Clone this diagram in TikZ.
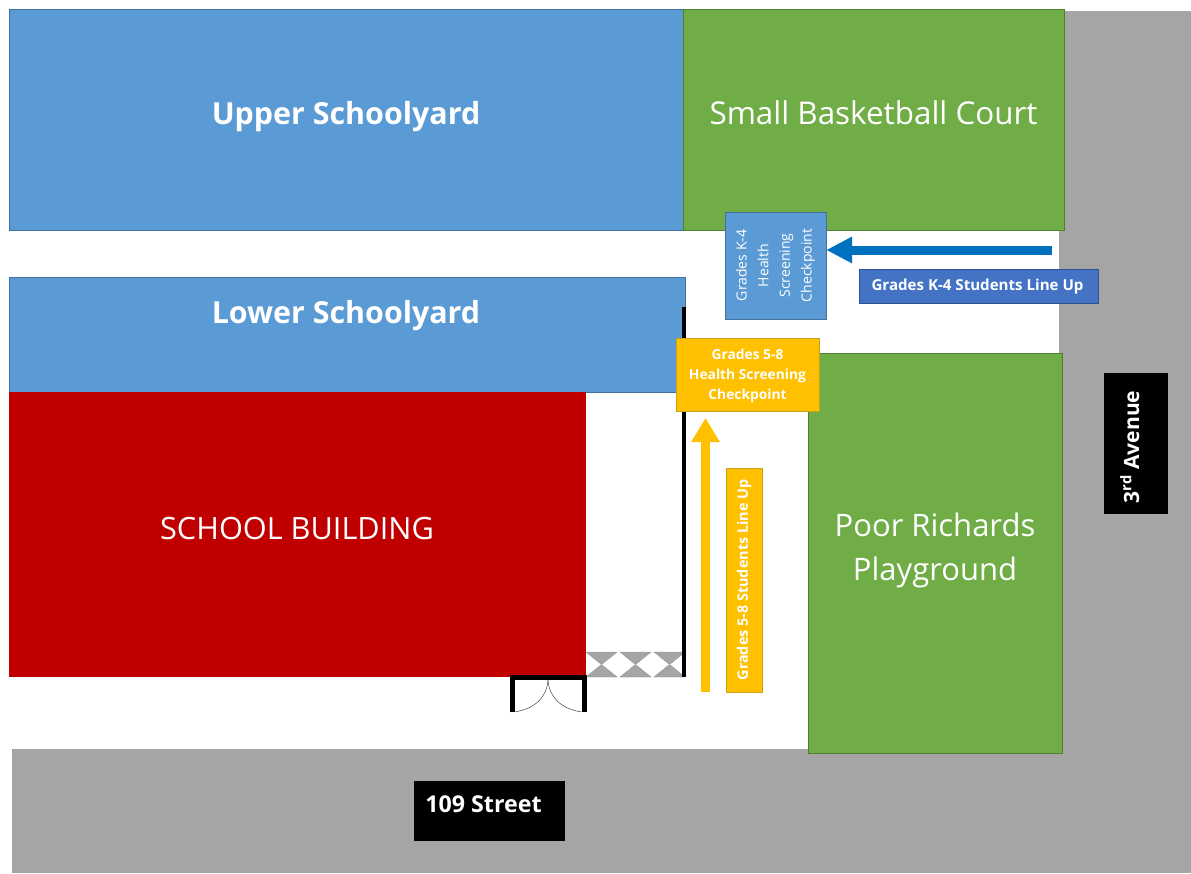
\documentclass[tikz,border=0pt]{standalone}
\usepackage{fontspec}
\setmainfont{Open Sans}
\usetikzlibrary{arrows.meta,positioning,calc}

\definecolor{yardblue}{HTML}{5B9BD5}
\definecolor{yardline}{HTML}{41719C}
\definecolor{grassgreen}{HTML}{70AD47}
\definecolor{grassline}{HTML}{507E32}
\definecolor{buildred}{HTML}{C00000}
\definecolor{roadgray}{HTML}{A5A5A5}
\definecolor{lineyellow}{HTML}{FFC000}
\definecolor{yellowedge}{HTML}{C9A21A}
\definecolor{lineblue}{HTML}{4472C4}
\definecolor{lineblueedge}{HTML}{2F528F}
\definecolor{arrowblue}{HTML}{0070C0}

\tikzset{
	yard/.style={draw=yardline, fill=yardblue},
	grass/.style={draw=grassline, fill=grassgreen},
	bigtext/.style={text=white, font=\fontsize{31}{44}\selectfont, align=center},
	yardtext/.style={text=white, font=\fontsize{30.4}{36}\selectfont\bfseries},
	smalltext/.style={text=white, font=\fontsize{14}{20}\selectfont\bfseries, align=center},
	streetsign/.style={fill=black, text=white, inner sep=0pt}
}

\begin{document}
\begin{tikzpicture}[x=1pt,y=-1pt]
	\useasboundingbox (0,0) rectangle (1191,873);

	% Streets
	\fill[roadgray] (1059,11) rectangle (1191,873);
	\fill[roadgray] (12,749) rectangle (1191,873);

	% Schoolyards
	\draw[yard] (9.5,9.5) rectangle (683.5,230.5);
	\node[yardtext] (upperyard) at (346,117) {Upper Schoolyard};
	\draw[yard] (9.5,277.5) rectangle (685.5,392);
	\node[yardtext] (loweryard) at (346,316) {Lower Schoolyard};

	% Courts
	\draw[grass] (683.5,9.5) rectangle (1064.5,230.5);
	\node[bigtext, font=\fontsize{31.4}{44}\selectfont] (smallcourt) at (873.5,113) {Small Basketball Court};
	\draw[grass] (808,353) rectangle (1062.5,753);
	\node[bigtext] (poorrichards) at (935,550) {Poor Richards\\Playground};

	% Building
	\fill[buildred] (9,392) rectangle (586,677);
	\node[bigtext, font=\fontsize{30.7}{44}\selectfont] (building) at (297,529) {SCHOOL BUILDING};

	% Fence
	\foreach \x in {586,620,654}{
		\draw[roadgray!90!black, fill=roadgray] (\x,652) -- (\x+31,652) -- (\x+15.5,664.5) -- cycle;
		\draw[roadgray!90!black, fill=roadgray] (\x,677) -- (\x+31,677) -- (\x+15.5,664.5) -- cycle;
	}
	\draw[line width=4pt] (683.5,307) -- (683.5,677);

	% Doors
	\draw[line width=5pt] (512,712) -- (512,677) -- (584,677) -- (584,712);
	\draw[black!85] (514,712) .. controls (535,709) and (547,697) .. (548,680);
	\draw[black!85] (582,712) .. controls (561,709) and (549,697) .. (548,680);

	% Checkpoints
	\node[yard, rotate=90, minimum width=107pt, minimum height=101pt, inner sep=0pt,
		text=white, font=\fontsize{14}{21.7}\selectfont, align=center] (kcheck) at (775.5,265.5)
		{Grades K-4\\Health\\Screening\\Checkpoint};
	\node[draw=yellowedge, fill=lineyellow, minimum width=143pt, minimum height=73pt,
		inner sep=0pt] (midcheck) at (747.5,374.5) {};
	\node[smalltext, font=\fontsize{13.8}{20}\selectfont\bfseries] (midchecktext) at (747.5,375.5)
		{Grades 5-8\\Health Screening\\Checkpoint};

	% Line up labels
	\node[draw=lineblueedge, fill=lineblue, smalltext, font=\fontsize{15.1}{20}\selectfont\bfseries,
		text height=9pt, text depth=0pt, minimum width=239pt, minimum height=34pt,
		inner sep=0pt] (kline) at (978.5,286) {\hspace{-2pt}Grades K-4 Students Line Up};
	\node[draw=yellowedge, fill=lineyellow, smalltext, font=\fontsize{14.4}{20}\selectfont\bfseries,
		rotate=90, minimum width=224pt, minimum height=36pt,
		inner sep=0pt] (midline) at (744,580) {Grades 5-8 Students Line Up};

	% Arrows
	\coordinate (kstart) at (1052,250);
	\coordinate (midstart) at (705.5,692);
	\coordinate (midend) at (705.5,418);
	\draw[arrowblue, line width=9pt, -{Triangle[length=26pt,width=25pt]}] (kstart) -- (kstart -| kcheck.south);
	\draw[lineyellow, line width=9pt, -{Triangle[length=24pt,width=27pt]}] (midstart) -- (midend);

	% Street signs
	\node[streetsign, font=\fontsize{23.2}{26}\selectfont\bfseries, text height=3pt, text depth=0pt,
		minimum width=151pt, minimum height=60pt] (street) at (489.5,811) {\hspace{-12pt}109 Street};
	\node[streetsign, font=\fontsize{21}{26}\selectfont\bfseries, text height=6pt, text depth=0pt,
		rotate=90, minimum width=141pt, minimum height=64pt] (avenue) at (1136,443.5) {\hspace{-7pt}3\textsuperscript{rd} Avenue};
\end{tikzpicture}
\end{document}
